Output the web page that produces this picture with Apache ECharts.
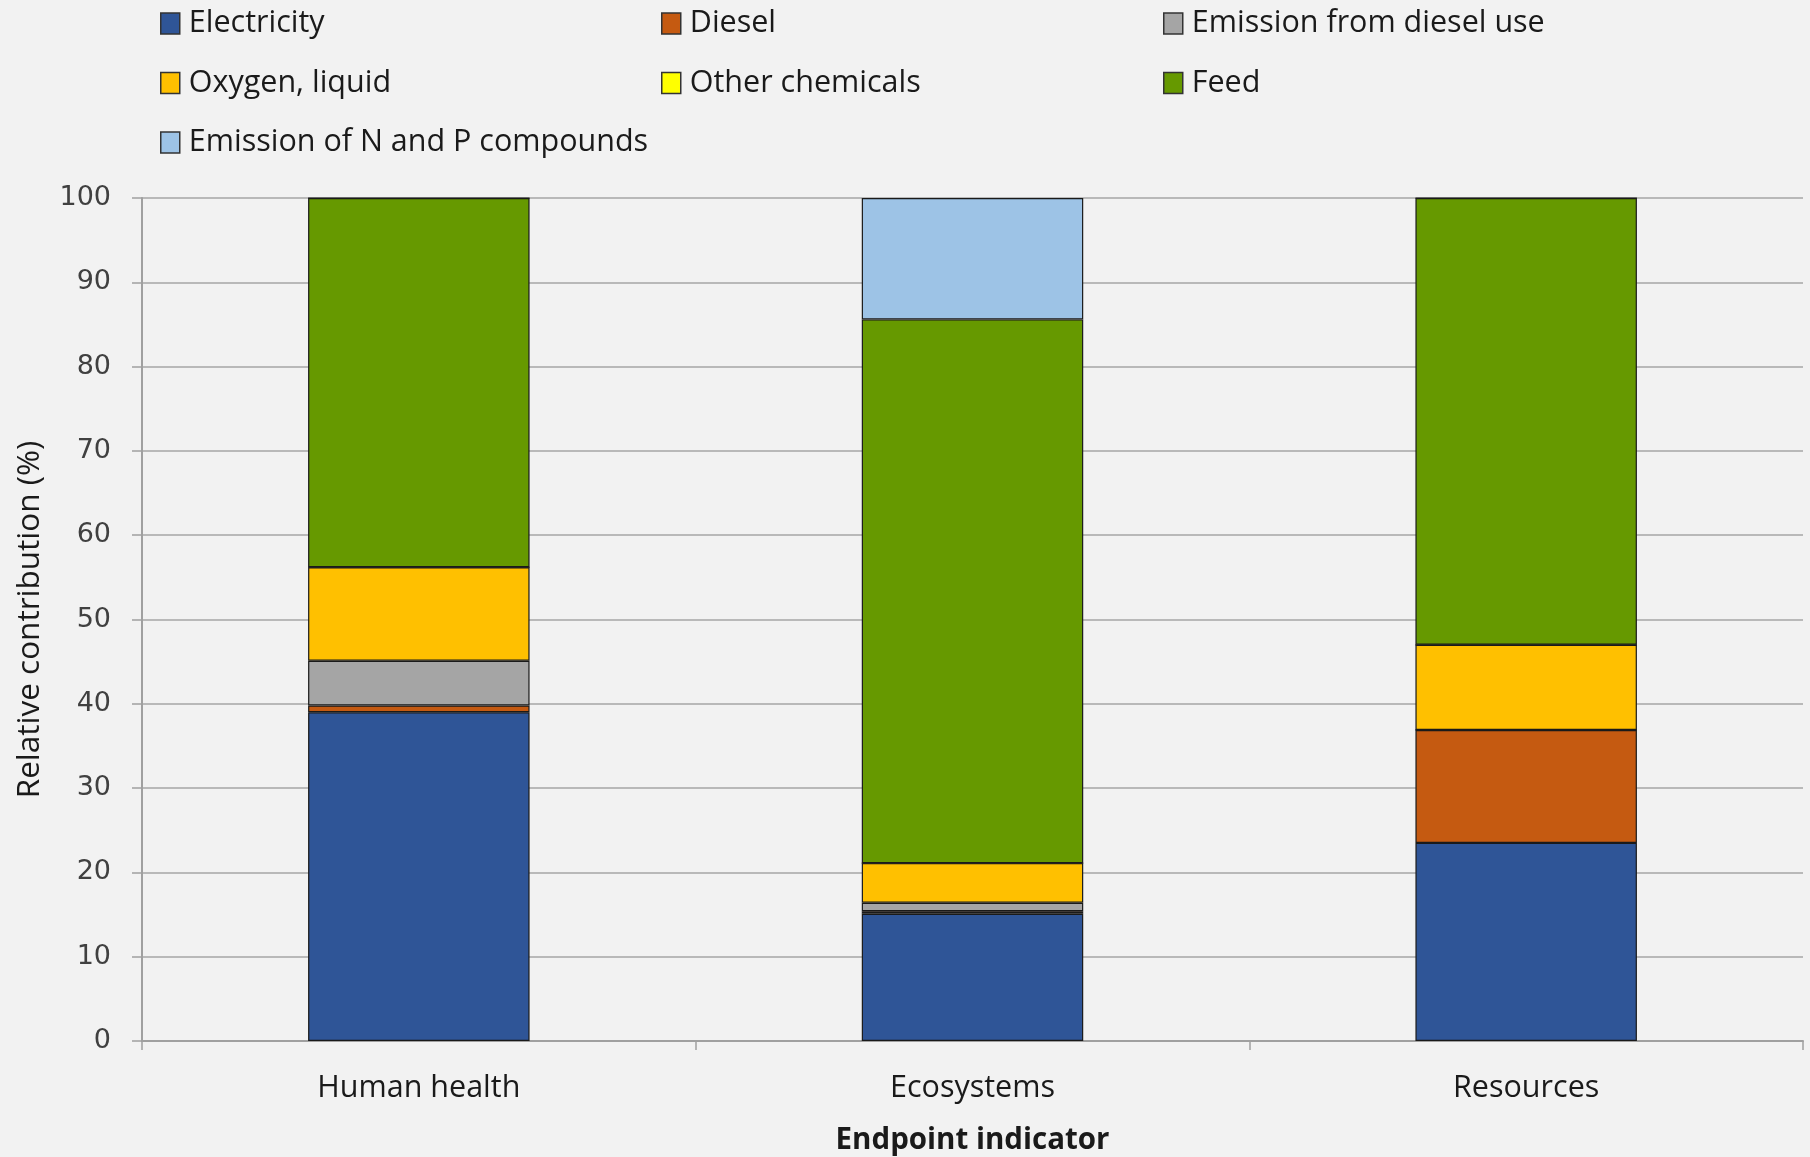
<!DOCTYPE html>
<html>
<head>
<meta charset="utf-8">
<script src="https://cdn.jsdelivr.net/npm/echarts@6/dist/echarts.min.js"></script>
<style>
html, body { margin: 0; padding: 0; background: #f2f2f2; }
#chart { width: 1810px; height: 1157px; }
</style>
</head>
<body>
<div id="chart"></div>
<script>
// data (relative contribution, %)
const categories = ['Human health', 'Ecosystems', 'Resources'];
const electricity = [39.0, 15.1, 23.5];
const diesel = [0.8, 0.3, 13.4];
const dieselEmission = [5.3, 1.0, 0];
const oxygen = [11.1, 4.7, 10.1];
const otherChemicals = [0, 0, 0];
const feed = [43.8, 64.5, 53.0];
const nAndP = [0, 14.4, 0];
const yTicks = [0, 100, 10]; // min, max, step

const font = 'Open Sans';

function bar(name, data, color) {
    return {
        name: name,
        type: 'bar',
        stack: 'total',
        data: data,
        barWidth: '40%',
        itemStyle: {
            color: color,
            borderColor: '#1a1a1a',
            borderWidth: 1.2
        }
    };
}

function legend(names, left) {
    return {
        data: names,
        orient: 'vertical',
        left: left,
        top: 3,
        itemWidth: 19,
        itemHeight: 21,
        itemGap: 28.5,
        icon: 'rect',
        itemStyle: { borderColor: '#333', borderWidth: 1.5 },
        textStyle: { fontFamily: font, fontSize: 30.5, color: '#1a1a1a', padding: [0, 0, 0, 4] },
        selectedMode: false
    };
}

let chart = echarts.init(document.getElementById('chart'));
let option = {
    backgroundColor: '#f2f2f2',
    animation: false,
    legend: [
        legend(['Electricity', 'Oxygen, liquid', 'Emission of N and P compounds'], 155),
        legend(['Diesel', 'Other chemicals'], 656),
        legend(['Emission from diesel use', 'Feed'], 1158)
    ],
    grid: {
        left: 142,
        right: 7,
        top: 198,
        bottom: 116,
        outerBoundsMode: 'none'
    },
    xAxis: {
        type: 'category',
        data: categories,
        name: 'Endpoint indicator',
        nameLocation: 'middle',
        nameGap: 85,
        nameTextStyle: { fontFamily: font, fontSize: 29.5, fontWeight: 'bold', color: '#1a1a1a' },
        axisLine: { lineStyle: { color: '#a0a0a0', width: 2 } },
        axisTick: { show: true, length: 9, lineStyle: { color: '#a0a0a0', width: 1.5 } },
        axisLabel: { margin: 32, fontFamily: font, fontSize: 30.5, color: '#1a1a1a' }
    },
    yAxis: {
        type: 'value',
        min: yTicks[0],
        max: yTicks[1],
        interval: yTicks[2],
        name: 'Relative contribution (%)',
        nameLocation: 'middle',
        nameGap: 96,
        nameTextStyle: { fontFamily: font, fontSize: 31.5, color: '#1a1a1a' },
        axisLine: { show: true, lineStyle: { color: '#a0a0a0', width: 2 } },
        axisTick: { show: true, length: 10, lineStyle: { color: '#a0a0a0', width: 1.5 } },
        axisLabel: { margin: 31, fontFamily: 'DejaVu Sans', fontSize: 27, color: '#404040' },
        splitLine: { lineStyle: { color: '#a6a6a6', width: 1.5 } }
    },
    series: [
        bar('Electricity', electricity, '#2f5597'),
        bar('Diesel', diesel, '#c55a11'),
        bar('Emission from diesel use', dieselEmission, '#a5a5a5'),
        bar('Oxygen, liquid', oxygen, '#ffc000'),
        bar('Other chemicals', otherChemicals, '#ffff00'),
        bar('Feed', feed, '#669900'),
        bar('Emission of N and P compounds', nAndP, '#9dc3e6')
    ]
};
chart.setOption(option);
window.addEventListener('resize', () => chart.resize());
</script>
</body>
</html>
